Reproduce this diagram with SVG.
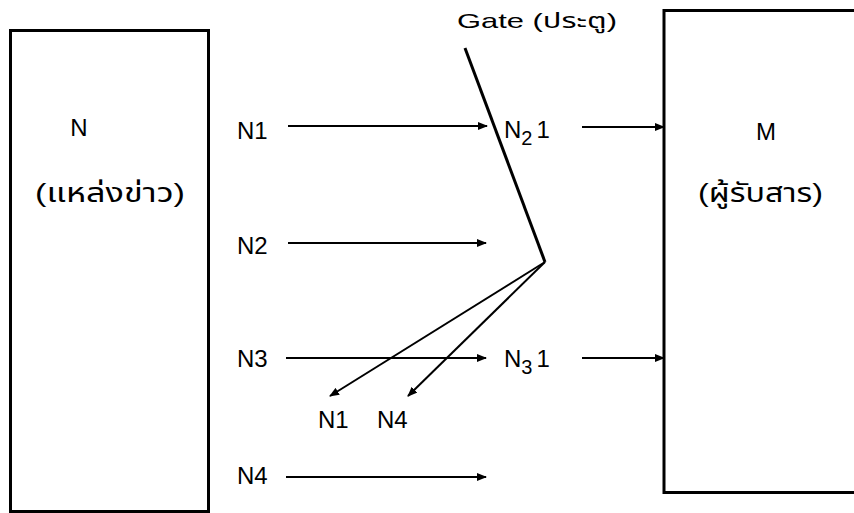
<svg xmlns="http://www.w3.org/2000/svg" width="854" height="513" viewBox="0 0 854 513">
<defs>
<marker id="ah" markerWidth="10" markerHeight="8" refX="9" refY="4" orient="auto" markerUnits="userSpaceOnUse">
<path d="M0,0 L10,4 L0,8 Z" fill="#000"/>
</marker>
<style>
.t{font-family:"Liberation Sans","Noto Sans Thai","Noto Sans",sans-serif;fill:#000}
.lbl{font-size:24px}
.box{fill:#fff;stroke:#000;stroke-width:3}
.c{stroke:#000;stroke-width:2;fill:none}
.g{stroke:#000;stroke-width:3;fill:none}
</style>
</defs>
<rect width="854" height="513" fill="#fff"/>
<g id="source">
<rect class="box" x="10.5" y="30.5" width="198" height="481"/>
<text class="t lbl" x="79" y="136" text-anchor="middle">N</text>
<text class="t" font-size="26" x="35" y="202" textLength="150" lengthAdjust="spacingAndGlyphs">(แหล่งข่าว)</text>
</g>
<g id="receiver">
<rect class="box" x="664" y="10.5" width="200" height="482"/>
<text class="t lbl" x="766" y="140" text-anchor="middle">M</text>
<text class="t" font-size="26" x="698" y="202" textLength="125" lengthAdjust="spacingAndGlyphs">(ผู้รับสาร)</text>
</g>
<g id="gate">
<polyline class="g" points="465,48 545,262"/>
<text class="t" x="457" y="28" font-size="21" textLength="160" lengthAdjust="spacingAndGlyphs">Gate (ประตู)</text>
</g>
<g id="labels">
<text class="t lbl" x="237" y="139">N1</text>
<text class="t lbl" x="237" y="254">N2</text>
<text class="t lbl" x="237" y="367">N3</text>
<text class="t lbl" x="237" y="484">N4</text>
<text class="t lbl" x="504" y="138">N<tspan font-size="20" dy="7">2</tspan><tspan dy="-7" dx="4">1</tspan></text>
<text class="t lbl" x="504" y="367">N<tspan font-size="20" dy="7">3</tspan><tspan dy="-7" dx="4">1</tspan></text>
<text class="t lbl" x="318" y="428">N1</text>
<text class="t lbl" x="377" y="428">N4</text>
</g>
<g id="connectors">
<line class="c" x1="288" y1="126" x2="487" y2="126" marker-end="url(#ah)"/>
<line class="c" x1="288" y1="243" x2="486" y2="243" marker-end="url(#ah)"/>
<line class="c" x1="286" y1="358" x2="486" y2="358" marker-end="url(#ah)"/>
<line class="c" x1="286" y1="477" x2="486" y2="477" marker-end="url(#ah)"/>
<line class="c" x1="582" y1="127" x2="664" y2="127" marker-end="url(#ah)"/>
<line class="c" x1="582" y1="358" x2="664" y2="358" marker-end="url(#ah)"/>
<line class="c" x1="545" y1="262" x2="330" y2="396" marker-end="url(#ah)"/>
<line class="c" x1="545" y1="262" x2="408" y2="396" marker-end="url(#ah)"/>
</g>
</svg>
